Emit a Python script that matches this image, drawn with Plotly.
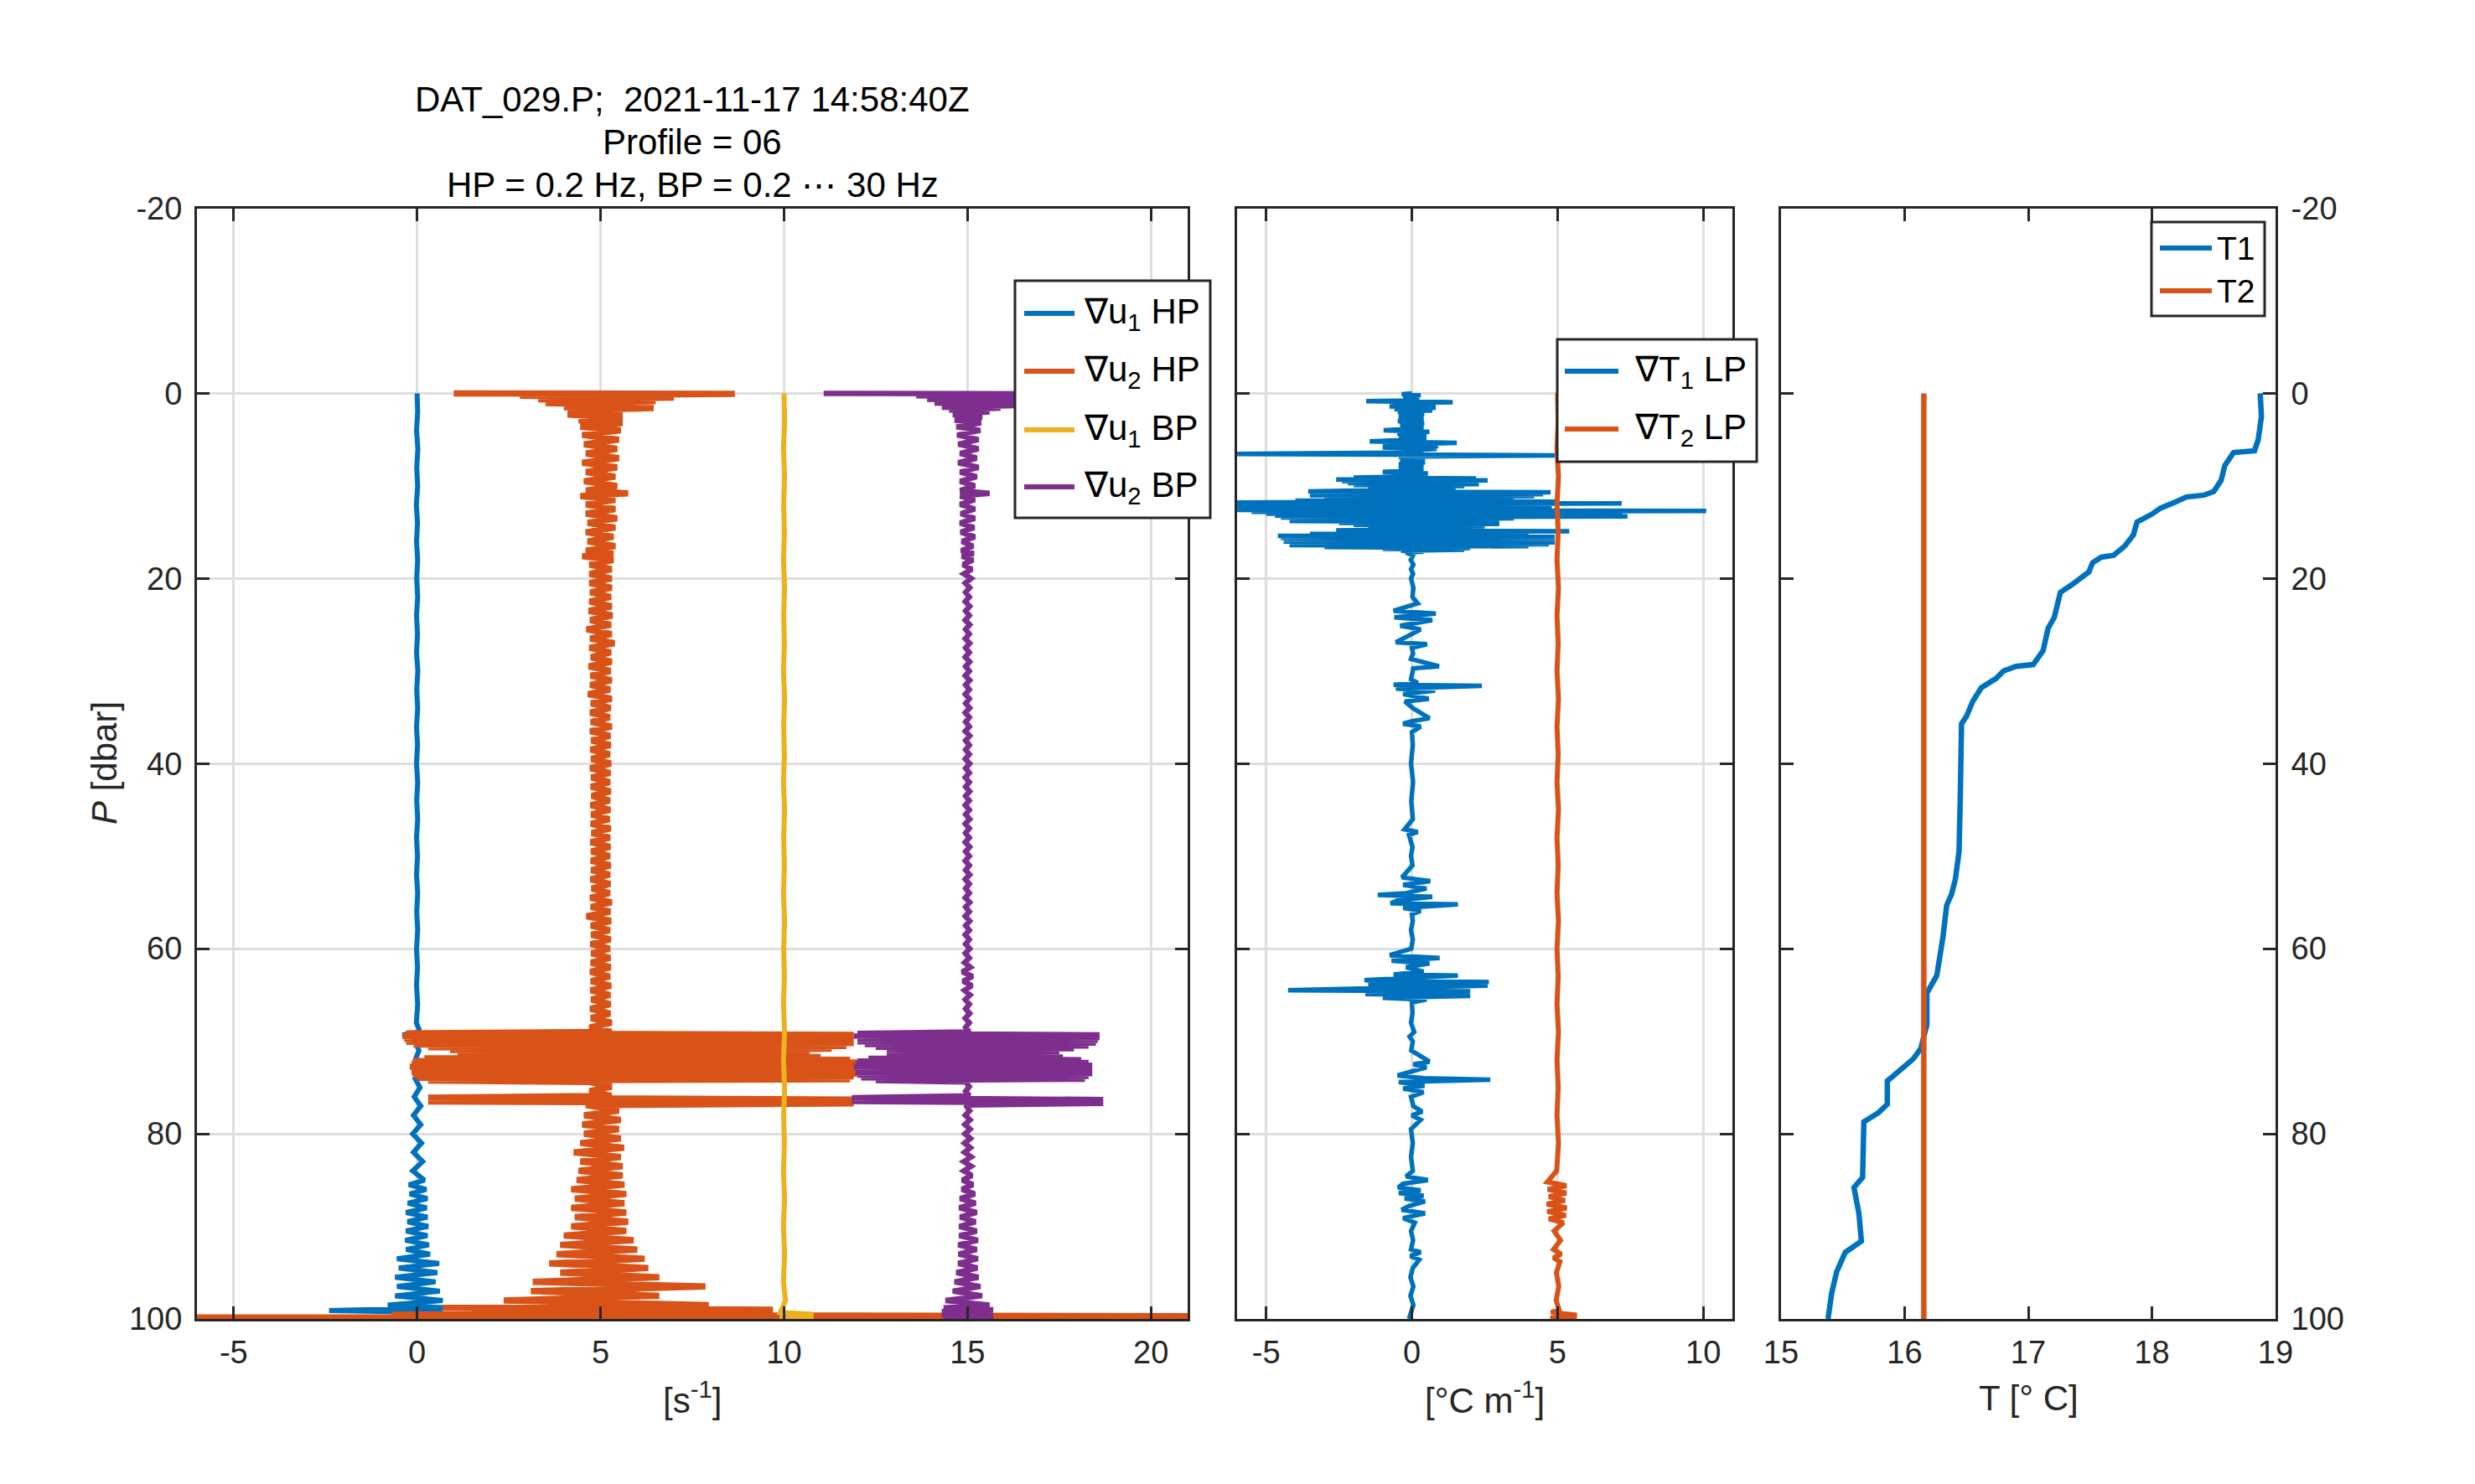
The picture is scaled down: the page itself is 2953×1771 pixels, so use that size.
import plotly.graph_objects as go

# figure size (px) and MATLAB-like colours
W, H = 2953, 1771
OFF = 8  # the page body margin shifts the figure by this many px
BLUE = '#0072BD'
ORANGE = '#D95319'
YELLOW = '#EDB120'
PURPLE = '#7E2F8E'
AX = '#262626'
GRID = '#dedede'
FONT = 'Liberation Sans, Arial, Helvetica, sans-serif'

# ---------------- panel 1: shear (offset by 0, 5, 10, 15) ----------------
P_U1_HP = [0, 2, 4, 6, 8, 10, 12, 14, 16, 18,
           20, 22, 24, 26, 28, 30, 32, 34, 36, 38,
           40, 42, 44, 46, 48, 50, 52, 54, 56, 58,
           60, 62, 64, 66, 68,
           69.0, 69.3, 69.6, 70, 71, 72, 73, 74, 75, 76, 77, 78, 79, 80, 81, 82, 83, 84,
           85, 85.5, 86, 86.5, 87, 87.5, 88, 88.5, 89, 89.5, 90, 90.5, 91, 91.5,
           92, 92.5, 93, 93.5, 94, 94.5, 95, 95.5, 96, 96.5, 97, 97.5, 98, 98.5,
           98.8, 99.1, 99.3, 99.6, 100]
U1_HP = [0.0, 0.015, -0.015, 0.02, -0.01, 0.015, -0.02, 0.01, -0.015, 0.015,
         -0.01, 0.015, -0.015, 0.01, -0.015, 0.02, -0.01, 0.015, -0.015, 0.01,
         -0.015, 0.015, -0.01, 0.015, -0.015, 0.01, -0.015, 0.015, -0.01, 0.015,
         -0.015, 0.01, -0.015, 0.015, -0.02,
         0.08, -0.4, 0.1, -0.05, 0.05, -0.05, 0.06, -0.06, 0.08, -0.08, 0.1, -0.1, 0.1, -0.12, 0.12, -0.1, 0.15, -0.12,
         0.2, -0.22, 0.25, -0.2, 0.28, -0.25, 0.26, -0.3, 0.28, -0.26, 0.3, -0.3, 0.28, -0.32,
         0.32, -0.3, 0.35, -0.55, 0.6, -0.5, 0.55, -0.6, 0.5, -0.55, 0.62, -0.6, 0.7, -0.8,
         0.83, -2.4, 0.7, -0.5, 0.0]

# shared pressure grid for the two u2 traces
P_U2 = [0.0, 0.05, 0.25, 0.45, 0.65, 0.85, 1.05, 1.3, 1.5, 1.6, 1.8, 2.0,
        2.3, 2.6, 2.9, 3.2, 3.6, 4.0,
        4.5, 5.0, 5.5, 6.0, 6.5, 7.0, 7.5, 8.0, 8.5, 9.0, 9.5, 10.0,
        10.5, 10.8, 11.1, 11.5,
        12.0, 12.5, 13.0, 13.5, 14.0, 14.5, 15.0, 15.5, 16.0, 16.5, 17.0,
        17.3, 17.6, 18.0, 18.5, 19.0, 19.5, 20.0,
        20.5, 21.0, 21.5, 22.0, 22.5, 23.0, 23.5, 24.0, 24.5, 25.0,
        25.5, 26.0, 26.5, 27.0, 27.5, 28.0, 28.5, 29.0, 29.5, 30.0,
        30.5, 31.0, 31.5, 32.0, 32.5, 33.0, 33.5, 34.0, 34.5, 35.0,
        35.5, 36.0, 36.5, 37.0, 37.5, 38.0, 38.5, 39.0, 39.5, 40.0,
        40.5, 41.0, 41.5, 42.0, 42.5, 43.0, 43.5, 44.0, 44.5, 45.0,
        45.5, 46.0, 46.5, 47.0, 47.5, 48.0, 48.5, 49.0, 49.5, 50.0,
        50.5, 51.0, 51.5, 52.0, 52.5, 53.0, 53.5, 54.0, 54.5, 55.0,
        55.5, 56.0, 56.5, 57.0, 57.5, 58.0, 58.5, 59.0, 59.5, 60.0,
        60.5, 61.0, 61.5, 62.0, 62.5, 63.0, 63.5, 64.0, 64.5, 65.0,
        65.5, 66.0, 66.5, 67.0, 67.5, 68.0, 68.5, 69.0,
        69.15, 69.3, 69.45, 69.6, 69.75, 69.9, 70.05, 70.2, 70.35, 70.5, 70.65, 70.8,
        70.95, 71.1, 71.25, 71.4, 71.55, 71.7, 71.85, 72.0, 72.15, 72.3, 72.45, 72.6,
        72.75, 72.9, 73.05, 73.2, 73.35, 73.5, 73.65, 73.8, 73.95, 74.1, 74.25, 74.4,
        74.9, 75.4, 75.9,
        76.1, 76.3, 76.5, 76.7, 76.9,
        77.5, 78.0, 78.5, 79.0, 79.5, 80.0, 80.5, 81.0, 81.5, 82.0,
        82.5, 83.0, 83.5, 84.0, 84.5, 85.0, 85.5, 86.0, 86.5, 87.0,
        87.5, 88.0, 88.5, 89.0, 89.5, 90.0, 90.5, 91.0, 91.5, 92.0,
        92.5, 93.0, 93.5, 94.0, 94.5, 95.0, 95.5, 96.0, 96.5, 97.0,
        97.5, 98.0, 98.5,
        98.8, 99.0, 99.2, 99.4, 99.55, 99.7, 99.85, 100.0]
U2_HP = [1.0, 8.66, 2.8, 7.0, 3.3, 6.5, 3.5, 6.0, 4.0, 6.45, 4.1, 5.6,
         4.1, 5.6, 4.4, 5.6, 4.45, 5.55,
         4.5, 5.5, 4.55, 5.45, 4.6, 5.5, 4.5, 5.45, 4.6, 5.4, 4.55, 5.45,
         4.6, 5.75, 4.45, 5.4,
         4.6, 5.4, 4.6, 5.45, 4.65, 5.4, 4.6, 5.35, 4.65, 5.4, 4.6,
         5.35, 4.5, 5.35, 4.7, 5.3, 4.7, 5.3,
         4.70, 5.30, 4.72, 5.28, 4.70, 5.30, 4.68, 5.32, 4.72, 5.28,
         4.62, 5.30, 4.72, 5.38, 4.70, 5.28, 4.74, 5.30, 4.68, 5.27,
         4.73, 5.30, 4.72, 5.26, 4.66, 5.30, 4.74, 5.27, 4.72, 5.25,
         4.74, 5.30, 4.72, 5.26, 4.75, 5.27, 4.73, 5.25, 4.75, 5.28,
         4.72, 5.26, 4.75, 5.25, 4.74, 5.27, 4.76, 5.25, 4.73, 5.26,
         4.75, 5.24, 4.74, 5.27, 4.76, 5.25, 4.73, 5.26, 4.75, 5.25,
         4.74, 5.27, 4.75, 5.25, 4.73, 5.26, 4.76, 5.25, 4.72, 5.30,
         4.74, 5.26, 4.62, 5.28, 4.74, 5.25, 4.75, 5.27, 4.73, 5.25,
         4.75, 5.26, 4.74, 5.27, 4.72, 5.25, 4.74, 5.28, 4.73, 5.26,
         4.75, 5.27, 4.72, 5.26, 4.74, 5.30, 4.70, 5.30,
         -0.3, 11.9, -0.4, 11.9, -0.35, 11.85, -0.3, 11.9, -0.1, 11.7, 0.3, 11.3,
         0.9, 10.7, 1.3, 10.5, 1.1, 11.0, 0.2, 11.8, -0.1, 12.0, -0.15, 11.9,
         -0.2, 12.0, -0.1, 11.95, -0.15, 12.0, -0.1, 11.9, 0.0, 11.8, 0.3, 4.7,
         5.3, 4.7, 5.3,
         0.3, 11.9, 0.3, 11.9, 4.6,
         5.5, 4.55, 5.55, 4.5, 5.5, 4.55, 5.55, 4.45, 5.64, 4.27,
         5.55, 4.45, 5.6, 4.4, 5.6, 4.35, 5.65, 4.2, 5.7, 4.3,
         5.65, 4.2, 5.7, 4.3, 5.75, 4.2, 5.7, 4.0, 5.9, 3.9,
         6.0, 3.8, 6.2, 3.6, 6.3, 3.9, 6.6, 3.15, 7.86, 3.1,
         6.6, 2.36, 7.95,
         0.7, 9.7, 1.5, 9.0, -0.7, 21.5, -6.5, 21.5]
U2_BP = [11.08, 17.5, 13.6, 16.9, 13.9, 16.4, 14.1, 16.6, 14.3, 15.9, 14.5, 15.6,
         14.6, 15.4, 14.65, 15.37, 14.7, 15.35,
         14.72, 15.3, 14.75, 15.3, 14.8, 15.25, 14.75, 15.3, 14.8, 15.25, 14.8, 15.2,
         14.8, 15.6, 14.8, 15.2,
         14.8, 15.2, 14.82, 15.2, 14.8, 15.18, 14.82, 15.2, 14.85, 15.15, 14.83,
         15.17, 14.85, 15.15, 14.88, 15.12, 14.9, 15.1,
         14.94, 15.06, 14.95, 15.05, 14.94, 15.06, 14.95, 15.05, 14.94, 15.06,
         14.95, 15.05, 14.94, 15.06, 14.95, 15.05, 14.94, 15.06, 14.95, 15.05,
         14.94, 15.06, 14.95, 15.05, 14.94, 15.05, 14.95, 15.06, 14.94, 15.05,
         14.95, 15.05, 14.94, 15.06, 14.95, 15.05, 14.95, 15.05, 14.94, 15.06,
         14.95, 15.05, 14.94, 15.05, 14.95, 15.06, 14.95, 15.05, 14.94, 15.05,
         14.95, 15.06, 14.94, 15.05, 14.95, 15.05, 14.94, 15.06, 14.95, 15.05,
         14.94, 15.05, 14.95, 15.06, 14.94, 15.05, 14.95, 15.05, 14.94, 15.06,
         14.95, 15.05, 14.94, 15.06, 14.95, 15.05, 14.94, 15.05, 14.95, 15.06,
         14.94, 15.05, 14.92, 15.08, 14.86, 15.14, 14.88, 15.12, 14.92, 15.07,
         14.94, 15.05, 14.95, 15.06, 14.94, 15.05, 14.95, 15.05,
         12.0, 18.6, 11.9, 18.6, 12.0, 18.55, 12.0, 18.5, 12.2, 18.3, 12.5, 17.9,
         12.8, 17.5, 13.0, 17.3, 12.8, 17.6, 12.3, 18.1, 12.0, 18.3, 11.95, 18.4,
         11.9, 18.4, 12.0, 18.35, 11.95, 18.4, 12.0, 18.3, 12.1, 18.2, 12.5, 14.95,
         15.05, 14.95, 15.05,
         11.85, 18.7, 11.85, 18.7, 14.95,
         15.06, 14.94, 15.07, 14.93, 15.07, 14.93, 15.08, 14.92, 15.08, 14.92,
         15.1, 14.9, 15.1, 14.9, 15.12, 14.86, 15.15, 14.85, 15.2, 14.8,
         15.22, 14.78, 15.25, 14.8, 15.22, 14.78, 15.25, 14.78, 15.28, 14.75,
         15.25, 14.76, 15.28, 14.75, 15.27, 14.7, 15.3, 14.65, 15.35, 14.6,
         15.4, 14.4, 15.6,
         14.35, 15.7, 14.3, 15.7, 14.3, 15.7, 14.35, 15.65]

P_U1_BP = [0, 3, 6, 9, 12, 15, 18, 21, 24, 27,
           30, 33, 36, 39, 42, 45, 48, 51, 54, 57,
           60, 63, 66, 69, 72, 75, 78, 81, 84, 87,
           90, 93, 96,
           98, 99.3, 99.5, 99.7, 99.85, 100]
U1_BP = [10.0, 10.015, 9.985, 10.015, 9.99, 10.01, 9.985, 10.015, 9.99, 10.01,
         9.985, 10.015, 9.99, 10.01, 9.985, 10.015, 9.99, 10.01, 9.985, 10.015,
         9.99, 10.01, 9.985, 10.015, 9.985, 10.015, 9.99, 10.01, 9.985, 10.015,
         9.985, 10.015, 9.985,
         10.04, 9.9, 10.8, 9.88, 10.8, 9.9]

# ---------------- panel 2: temperature gradient ----------------
P_DT1 = [0.0, 0.1, 0.2, 0.3, 0.45, 0.6, 0.75, 0.85, 0.95, 1.1,
         1.25, 1.4, 1.55, 1.7, 1.85, 2.0, 2.25, 2.5, 2.75, 3.0,
         3.25, 3.5, 3.75, 4.0, 4.15, 4.35, 4.55, 4.75, 4.95, 5.2,
         5.35, 5.55, 5.7, 5.85, 6.0, 6.2, 6.4, 6.55, 6.7, 6.85,
         7.05, 7.25, 7.45, 7.65, 7.85, 8.05, 8.25, 8.5, 8.65, 8.8,
         8.95, 9.1, 9.2, 9.3, 9.4, 9.5, 9.6, 9.7, 9.8, 9.9,
         10.0, 10.15, 10.3, 10.45, 10.6, 10.7, 10.8, 10.9, 11.0, 11.1,
         11.2, 11.3, 11.4, 11.5, 11.6, 11.7, 11.8, 11.9, 12.0, 12.1,
         12.2, 12.3, 12.4, 12.5, 12.6, 12.7, 12.8, 12.9, 13.0, 13.1,
         13.2, 13.3, 13.4, 13.5, 13.6, 13.7, 13.8, 13.9, 14.0, 14.1,
         14.2, 14.35, 14.5, 14.65, 14.8, 14.9, 15.0, 15.1, 15.2, 15.3,
         15.4, 15.5, 15.6, 15.7, 15.8, 15.9, 16.0, 16.1, 16.2, 16.3,
         16.4, 16.5, 16.6, 16.7, 16.8, 16.9, 17.0, 17.1, 17.2,
         17.5, 18.0, 18.5, 19.0, 19.5, 20.0, 21.0, 22.0, 22.7, 23.5,
         23.8, 24.2, 24.5, 25.1, 25.5, 26.0, 26.9, 27.1, 27.5, 28.1,
         28.7, 29.5, 29.7, 30.9, 31.3, 31.5, 31.6, 31.9, 32.1, 32.5,
         33.0, 33.3, 34.0, 35.1, 35.4, 35.7, 36.0, 36.6, 38.0, 40.0,
         42.0, 44.0, 46.0, 47.1, 47.4, 47.7, 49.0, 50.0, 51.0, 52.3,
         52.7, 53.1, 53.5, 54.0, 54.2, 54.4, 54.8, 55.1, 55.2, 55.6,
         55.9, 56.3, 57.0, 58.0, 59.0, 60.0, 60.7, 61.0, 61.3, 61.6,
         62.0, 62.5, 62.8, 62.9, 63.2, 63.4, 63.6, 63.8, 64.0, 64.3,
         64.5, 64.6, 64.9, 65.1, 65.3, 65.5, 65.8,
         67.0, 68.0, 69.0, 69.5, 70.0, 71.0, 72.2, 72.5, 72.8, 73.3,
         73.7, 74.0, 74.15, 74.4, 74.8, 75.1, 75.5, 76.0, 77.0, 77.6,
         78.0, 78.5, 79.5, 81.0, 82.5, 84.0, 84.6, 85.0, 85.4, 85.8,
         86.1, 86.4, 86.7, 87.0, 87.3, 87.8, 88.2, 88.6, 89.1, 89.6,
         90.5, 91.5, 92.5, 92.8, 93.2, 93.6, 94.5, 95.5, 96.5, 97.5,
         98.5, 99.3, 100.0]
DT1 = [0.0, -0.35, 0.3, -0.3, 0.2, -0.2, 0.25, -1.57, 1.4, -0.7,
       0.8, -0.77, 0.82, -0.6, 0.7, -0.48, 0.42, -0.45, 0.4, -0.48,
       0.42, -0.4, 0.4, -0.97, 0.6, -0.5, 0.5, -0.45, 0.5, -1.45,
       1.54, -1.0, 0.9, -1.0, 0.85, -0.4, 0.4, -6.5, 4.9, -0.45,
       0.45, -0.4, 0.45, -0.45, 0.4, -0.45, 0.4, -1.0, 0.55, -0.5,
       0.5, -2.0, 2.2, -2.6, 2.6, -2.4, 2.0, -2.2, 2.3, -2.0,
       1.8, -1.5, 1.5, -1.2, -3.56, 4.76, -3.3, 4.5, -3.5, 4.2,
       -3.0, 3.0, -2.5, 3.5, -4.0, 5.0, -6.5, 7.2, -6.5, 4.5,
       -6.5, 4.8, -6.3, 4.0, -6.2, 10.1, -5.5, 7.23, -5.0, 4.0,
       -4.7, 7.4, -4.5, 3.5, -3.0, 3.0, -4.2, 2.5, -2.5, 3.0,
       -2.0, 2.5, -1.5, 2.0, -2.6, 5.4, -2.6, 3.0, -3.5, 4.0,
       -4.6, 4.9, -4.5, 4.9, -4.4, 4.8, -4.4, 4.9, -4.0, 4.7,
       -4.2, 4.0, -3.0, 2.0, -1.0, 1.8, -0.37, 0.4, -0.2,
       0.04, -0.04, 0.05, -0.03, 0.04, -0.03, 0.05, 0.02, 0.2, -0.63,
       0.82, -0.6, 0.7, -0.4, 0.3, 0.0, -0.55, 0.52, 0.0, 0.04,
       -0.03, 0.93, 0.05, -0.03, 0.2, -0.63, 2.4, -0.55, 0.8, -0.3,
       0.58, -0.24, 0.03, 0.6, 0.03, -0.3, 0.3, 0.0, 0.03, -0.03,
       0.04, -0.02, 0.03, -0.25, 0.2, -0.1, 0.02, -0.03, 0.02, -0.34,
       0.63, -0.3, 0.5, -0.2, -1.17, 0.7, -0.5, -0.73, 1.58, -0.3,
       0.3, 0.0, 0.03, -0.03, 0.03, -0.02, -0.76, 0.95, -0.7, 0.6,
       -0.2, 0.4, -0.63, 1.58, -0.9, -1.63, 2.64, -1.5, 2.6, -1.2,
       -4.25, 2.0, -1.6, 2.0, -1.0, 0.5, 0.0,
       0.02, -0.03, 0.08, -0.08, 0.03, -0.02, 0.6, 0.05, 0.5, -0.05,
       -0.49, 0.4, 2.69, -0.45, 0.43, -0.3, 0.4, -0.03, 0.05, 0.35,
       0.0, 0.3, -0.03, 0.03, -0.03, 0.03, -0.2, 0.55, -0.3, -0.47,
       0.3, -0.45, 0.4, -0.25, 0.45, -0.1, -0.35, 0.45, -0.3, 0.1,
       -0.03, 0.04, -0.03, 0.3, -0.05, 0.25, 0.03, -0.05, 0.05, -0.05,
       0.05, -0.03, -0.1]

P_DT2 = [0, 3, 6, 9, 12, 15, 18, 21, 24, 27,
         30, 33, 36, 39, 42, 45, 48, 51, 54, 57,
         60, 63, 66, 69, 72, 75, 78, 81, 84,
         85.2, 85.6, 86.0, 86.4, 86.8, 87.2, 87.6, 88.0, 88.4, 88.8, 89.2, 89.6,
         90.5, 91.5, 92.5, 93.0, 93.4, 93.8, 95.0, 96.5, 98.0,
         99.0, 99.3, 99.6, 99.9, 100.0]
DT2 = [5.0, 5.02, 4.98, 5.03, 4.98, 5.02, 4.98, 5.03, 4.98, 5.02,
       4.98, 5.03, 4.98, 5.02, 4.98, 5.03, 4.98, 5.02, 4.98, 5.03,
       4.98, 5.02, 4.98, 5.03, 4.98, 5.02, 4.98, 5.03, 4.97,
       4.65, 5.3, 4.66, 5.3, 4.7, 5.25, 4.63, 5.31, 4.65, 5.28, 4.7, 5.2,
       4.88, 5.1, 4.86, 5.12, 4.86, 5.08, 4.96, 5.04, 4.95,
       5.05, 4.78, 5.66, 4.75, 5.66]

# ---------------- panel 3: temperature ----------------
P_T1 = [0, 2.5, 5, 6.2, 6.4, 7.8, 9.4, 10.6, 11.0, 11.2,
        11.8, 12.4, 13.05, 13.9, 15.3, 16.5, 17.5, 17.7, 18.3, 19.3,
        20.7, 21.5, 24.2, 25.4, 27.8, 29.3, 29.5, 30.0, 30.8, 31.8,
        33.3, 34.9, 35.7, 40.0, 43.5, 49.5, 52.5, 54.1, 55.3, 58.75,
        61.5, 62.9, 64.1, 64.8, 68.2, 70.8, 71.9, 72.9, 74.3, 76.8,
        77.7, 78.7, 84.7, 85.8, 88.6, 91.6, 92.8, 94.9, 97.2, 100]
T1 = [18.876, 18.886, 18.86, 18.83, 18.66, 18.59, 18.56, 18.5, 18.42, 18.28,
      18.18, 18.07, 18.0, 17.88, 17.85, 17.78, 17.69, 17.59, 17.52, 17.49,
      17.35, 17.26, 17.21, 17.16, 17.12, 17.04, 16.9, 16.8, 16.74, 16.62,
      16.55, 16.50, 16.46, 16.45, 16.45, 16.44, 16.41, 16.38, 16.34, 16.31,
      16.28, 16.26, 16.21, 16.18, 16.18, 16.13, 16.07, 15.98, 15.86, 15.86,
      15.79, 15.67, 15.66, 15.59, 15.63, 15.65, 15.52, 15.45, 15.41, 15.38]
P_T2 = [0, 100]
T2 = [16.155, 16.155]

# ticks
P_TICKS = [-20, 0, 20, 40, 60, 80, 100]
P_TICK_TEXT = ['-20', '0', '20', '40', '60', '80', '100']
S_TICKS = [-5, 0, 5, 10, 15, 20]
S_TICK_TEXT = ['-5', '0', '5', '10', '15', '20']
G_TICKS = [-5, 0, 5, 10]
G_TICK_TEXT = ['-5', '0', '5', '10']
T_TICKS = [15, 16, 17, 18, 19]
T_TICK_TEXT = ['15', '16', '17', '18', '19']

TITLE_LINES = ['DAT_029.P;  2021-11-17 14:58:40Z', 'Profile = 06',
               'HP = 0.2 Hz, BP = 0.2 \u22ef 30 Hz']

for a, b in [(P_U1_HP, U1_HP), (P_U2, U2_HP), (P_U2, U2_BP), (P_U1_BP, U1_BP),
             (P_DT1, DT1), (P_DT2, DT2), (P_T1, T1)]:
    assert len(a) == len(b), (len(a), len(b))


def px(x):
    return (x - OFF) / W


def py(y):
    return 1 - (y - OFF) / H


fig = go.Figure()


def line(x, y, color, width, ax):
    fig.add_trace(go.Scatter(x=x, y=y, mode='lines', line=dict(color=color, width=width),
                             xaxis='x' + ax, yaxis='y' + ax, showlegend=False,
                             hoverinfo='skip'))


line(U1_HP, P_U1_HP, BLUE, 6, '')
line(U2_HP, P_U2, ORANGE, 7.5, '')
line(U1_BP, P_U1_BP, YELLOW, 6, '')
line(U2_BP, P_U2, PURPLE, 6.5, '')
line(DT1, P_DT1, BLUE, 5.5, '2')
line(DT2, P_DT2, ORANGE, 6, '2')
line(T1, P_T1, BLUE, 6.5, '3')
line(T2, P_T2, ORANGE, 6.5, '3')

common = dict(showline=True, linewidth=3, linecolor=AX, mirror='ticks', ticks='inside',
              ticklen=15, tickwidth=3, tickcolor=AX, zeroline=False, automargin=False,
              tickfont=dict(family=FONT, size=38, color=AX),
              gridcolor=GRID, gridwidth=2.5)
ydom = [py(1574), py(248.5)]
fig.update_layout(
    template='none',
    width=W, height=H, margin=dict(l=0, r=0, t=0, b=0, pad=0),
    paper_bgcolor='white', plot_bgcolor='white', showlegend=False,
    xaxis=dict(domain=[px(235), px(1417)], range=[-6, 21], tickvals=S_TICKS,
               ticktext=S_TICK_TEXT, showgrid=True, anchor='y', ticklabelstandoff=4, **common),
    yaxis=dict(domain=ydom, range=[100, -20], tickvals=P_TICKS, ticktext=P_TICK_TEXT,
               showgrid=True, anchor='x', ticklabelstandoff=7, **common),
    xaxis2=dict(domain=[px(1476), px(2067)], range=[-6, 11], tickvals=G_TICKS,
                ticktext=G_TICK_TEXT, showgrid=True, anchor='y2', ticklabelstandoff=4, **common),
    yaxis2=dict(domain=ydom, range=[100, -20], tickvals=P_TICKS, showticklabels=False,
                showgrid=True, anchor='x2', **common),
    xaxis3=dict(domain=[px(2125), px(2715)], range=[15, 19], tickvals=T_TICKS,
                ticktext=T_TICK_TEXT, showgrid=False, anchor='y3', ticklabelstandoff=4, **common),
    yaxis3=dict(domain=ydom, range=[100, -20], tickvals=P_TICKS, ticktext=P_TICK_TEXT,
                showgrid=False, anchor='x3', side='right', ticklabelstandoff=8, **common),
)

ann = []
for txt, yy in zip(TITLE_LINES, [118.6, 169.5, 220.3]):
    ann.append(dict(x=px(826), y=py(yy), text=txt, xref='paper', yref='paper',
                    showarrow=False, xanchor='center', yanchor='middle',
                    font=dict(family=FONT, size=42, color='black')))
for txt, xx in [('[s<sup>-1</sup>]', 826), ('[°C m<sup>-1</sup>]', 1771.5), ('T [° C]', 2420)]:
    ann.append(dict(x=px(xx), y=py(1668), text=txt, xref='paper', yref='paper',
                    showarrow=False, xanchor='center', yanchor='middle',
                    font=dict(family=FONT, size=42, color=AX)))
ann.append(dict(x=px(124), y=py(911), text='<i>P</i> [dbar]', xref='paper', yref='paper',
                showarrow=False, textangle=-90, xanchor='center', yanchor='middle',
                font=dict(family=FONT, size=42, color=AX)))

# hand-drawn MATLAB style legends
shapes = []
legends = [
    dict(box=(1211, 335, 1444, 618), lx=(1222, 1282), tx=1291, size=42,
         items=[(374, BLUE, '\u2207u<sub>1</sub> HP'), (443, ORANGE, '\u2207u<sub>2</sub> HP'),
                (513, YELLOW, '\u2207u<sub>1</sub> BP'), (581, PURPLE, '\u2207u<sub>2</sub> BP')]),
    dict(box=(1858, 405, 2096, 551), lx=(1867, 1931), tx=1948, size=42,
         items=[(443, BLUE, '\u2207T<sub>1</sub> LP'), (512, ORANGE, '\u2207T<sub>2</sub> LP')]),
    dict(box=(2567, 265, 2702, 377), lx=(2577, 2639), tx=2643, size=39,
         items=[(296, BLUE, 'T1'), (347, ORANGE, 'T2')]),
]
for lg in legends:
    x0, y0, x1, y1 = lg['box']
    shapes.append(dict(type='rect', xref='paper', yref='paper', x0=px(x0), x1=px(x1),
                       y0=py(y1), y1=py(y0), fillcolor='white',
                       line=dict(color=AX, width=3), layer='above'))
    for yy, col, txt in lg['items']:
        shapes.append(dict(type='line', xref='paper', yref='paper', x0=px(lg['lx'][0]),
                           x1=px(lg['lx'][1]), y0=py(yy), y1=py(yy),
                           line=dict(color=col, width=6), layer='above'))
        ann.append(dict(x=px(lg['tx']), y=py(yy), text=txt, xref='paper', yref='paper',
                        showarrow=False, xanchor='left', yanchor='middle',
                        font=dict(family=FONT, size=lg['size'], color='black')))

fig.update_layout(annotations=ann, shapes=shapes)
fig.write_html('out.html')
